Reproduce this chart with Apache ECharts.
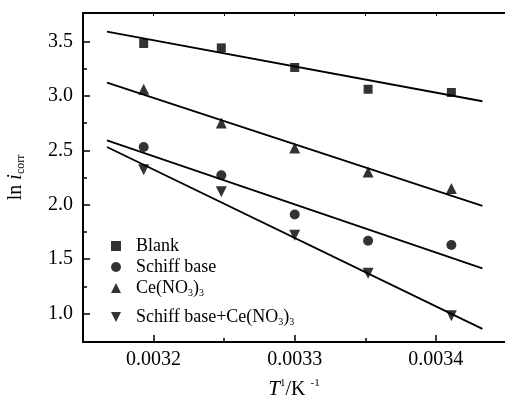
<!DOCTYPE html>
<html>
<head>
<meta charset="utf-8">
<script src="https://cdn.jsdelivr.net/npm/echarts@6/dist/echarts.min.js"></script>
<style>html,body{margin:0;padding:0;background:#fff}#c{width:505px;height:397px}</style>
</head>
<body>
<div id="c"></div>
<script>
// Data
var xValues = [0.003193, 0.003248, 0.003300, 0.003352, 0.003411];
var blank = [3.48, 3.44, 3.26, 3.06, 3.03];
var schiff = [2.53, 2.27, 1.91, 1.67, 1.63];
var ceNO3 = [3.06, 2.75, 2.52, 2.30, 2.15];
var schiffCe = [2.32, 2.12, 1.72, 1.37, 0.98];

var xFit = [0.003167, 0.003433];
var blankFit = [3.59, 2.95];
var schiffFit = [2.59, 1.415];
var ceFit = [3.12, 1.99];
var schiffCeFit = [2.53, 0.86];

var xMajor = [0.0032, 0.0033, 0.0034];
var xMinor = [0.00325, 0.00335];
var yMajor = [1.0, 1.5, 2.0, 2.5, 3.0, 3.5];
var yMinor = [1.25, 1.75, 2.25, 2.75, 3.25];
var seriesNames = ['Blank', 'Schiff base', 'Ce(NO3)3', 'Schiff base+Ce(NO3)3'];

function pairs(xs, ys) { return xs.map(function (x, i) { return [x, ys[i]]; }); }

var FONT = "'Liberation Serif','Times New Roman',serif";
var X_MIN = 0.00315, X_MAX = 0.003449, Y_MIN = 0.74, Y_MAX = 3.76;

function xAxisBase(pos) {
  return { type: 'value', position: pos, min: X_MIN, max: X_MAX, splitLine: { show: false },
    axisLine: { show: false }, axisLabel: { show: false }, axisTick: { show: false } };
}
function yAxisBase() {
  return { type: 'value', position: 'left', min: Y_MIN, max: Y_MAX, splitLine: { show: false },
    axisLine: { show: false }, axisLabel: { show: false }, axisTick: { show: false } };
}

var xMain = xAxisBase('bottom');
xMain.axisLine = { show: true, onZero: false, lineStyle: { color: '#000', width: 2 } };
xMain.axisTick = { show: true, inside: true, length: 7, customValues: xMajor, lineStyle: { color: '#000', width: 1.5 } };
xMain.axisLabel = { show: true, customValues: xMajor, margin: 8, color: '#000', fontFamily: FONT, fontSize: 20,
  formatter: function (v) { return v.toFixed(4); } };
xMain.name = '{it|T}{sup|1}{n|/K }{sup|-1}';
xMain.nameLocation = 'middle';
xMain.nameGap = 36;
xMain.nameTextStyle = { color: '#000', fontFamily: FONT, fontSize: 20,
  rich: { it: { fontStyle: 'italic', fontFamily: FONT, fontSize: 21, color: '#000' },
          n: { fontFamily: FONT, fontSize: 20, color: '#000' },
          sup: { fontFamily: FONT, fontSize: 11, color: '#000', padding: [0, 0, 12, 0] } } };

var xMinorAx = xAxisBase('bottom');
xMinorAx.axisTick = { show: true, inside: true, length: 4, customValues: xMinor, lineStyle: { color: '#000', width: 1.5 } };

var xTop = xAxisBase('top');
xTop.axisLine = { show: true, onZero: false, lineStyle: { color: '#000', width: 2 } };
xTop.axisTick = { show: true, inside: true, length: 3, customValues: xMajor.concat(xMinor), lineStyle: { color: '#000', width: 1 } };

var yMain = yAxisBase();
yMain.axisLine = { show: true, onZero: false, lineStyle: { color: '#000', width: 2 } };
yMain.axisTick = { show: true, inside: true, length: 7, customValues: yMajor, lineStyle: { color: '#000', width: 1.5 } };
yMain.axisLabel = { show: true, customValues: yMajor, margin: 10, color: '#000', fontFamily: FONT, fontSize: 20,
  formatter: function (v) { return v.toFixed(1); } };
yMain.name = '{n|ln }{it|i}{sub|corr}';
yMain.nameLocation = 'middle';
yMain.nameGap = 56;
yMain.nameTextStyle = { color: '#000', fontFamily: FONT, fontSize: 20,
  rich: { it: { fontStyle: 'italic', fontFamily: FONT, fontSize: 20, color: '#000' },
          n: { fontFamily: FONT, fontSize: 20, color: '#000' },
          sub: { fontFamily: FONT, fontSize: 12, color: '#000', padding: [10, 0, 0, 0] } } };

var yMinorAx = yAxisBase();
yMinorAx.axisTick = { show: true, inside: true, length: 4, customValues: yMinor, lineStyle: { color: '#000', width: 1.5 } };

function scatter(name, ys, symbol, size, rotate) {
  return { name: name, type: 'scatter', xAxisIndex: 0, yAxisIndex: 0, data: pairs(xValues, ys),
    symbol: symbol, symbolSize: size, symbolRotate: rotate || 0, itemStyle: { color: '#000' }, z: 3 };
}
function fit(ys) {
  return { type: 'line', xAxisIndex: 0, yAxisIndex: 0, data: pairs(xFit, ys), symbol: 'none',
    lineStyle: { color: '#000', width: 1.8 }, silent: true, z: 2 };
}

var legendIcons = ['rect', 'circle', 'triangle', 'path://M0,0L10,0L5,10Z'];
var legendTops = [232, 253, 274, 303];
function makeLegend(i) {
  return {
    orient: 'vertical', left: 106, top: legendTops[i], itemGap: 0, itemWidth: 10, itemHeight: 10,
    data: [{ name: seriesNames[i], icon: legendIcons[i] }],
    textStyle: { color: '#000', fontFamily: FONT, fontSize: 18,
      rich: { sp: { width: 10 }, sub: { fontFamily: FONT, fontSize: 10, color: '#000', padding: [10, 0, 0, 0] } } },
    formatter: function (n) { return '{sp|}' + n.replace('NO3)3', 'NO{sub|3}){sub|3}'); }
  };
}

var option = {
  animation: false,
  backgroundColor: '#fff',
  grid: { left: 83, right: 0, top: 13, bottom: 55, containLabel: false, outerBoundsMode: 'none' },
  xAxis: [xMain, xMinorAx, xTop],
  yAxis: [yMain, yMinorAx],
  legend: [makeLegend(0), makeLegend(1), makeLegend(2), makeLegend(3)],
  series: [
    fit(blankFit), fit(schiffFit), fit(ceFit), fit(schiffCeFit),
    scatter(seriesNames[0], blank, 'rect', 9),
    scatter(seriesNames[1], schiff, 'circle', 10),
    scatter(seriesNames[2], ceNO3, 'triangle', 11),
    scatter(seriesNames[3], schiffCe, 'triangle', 11, 180)
  ]
};
var chart = echarts.init(document.getElementById('c'), null, { renderer: 'canvas' });
chart.setOption(option);
</script>
</body>
</html>
